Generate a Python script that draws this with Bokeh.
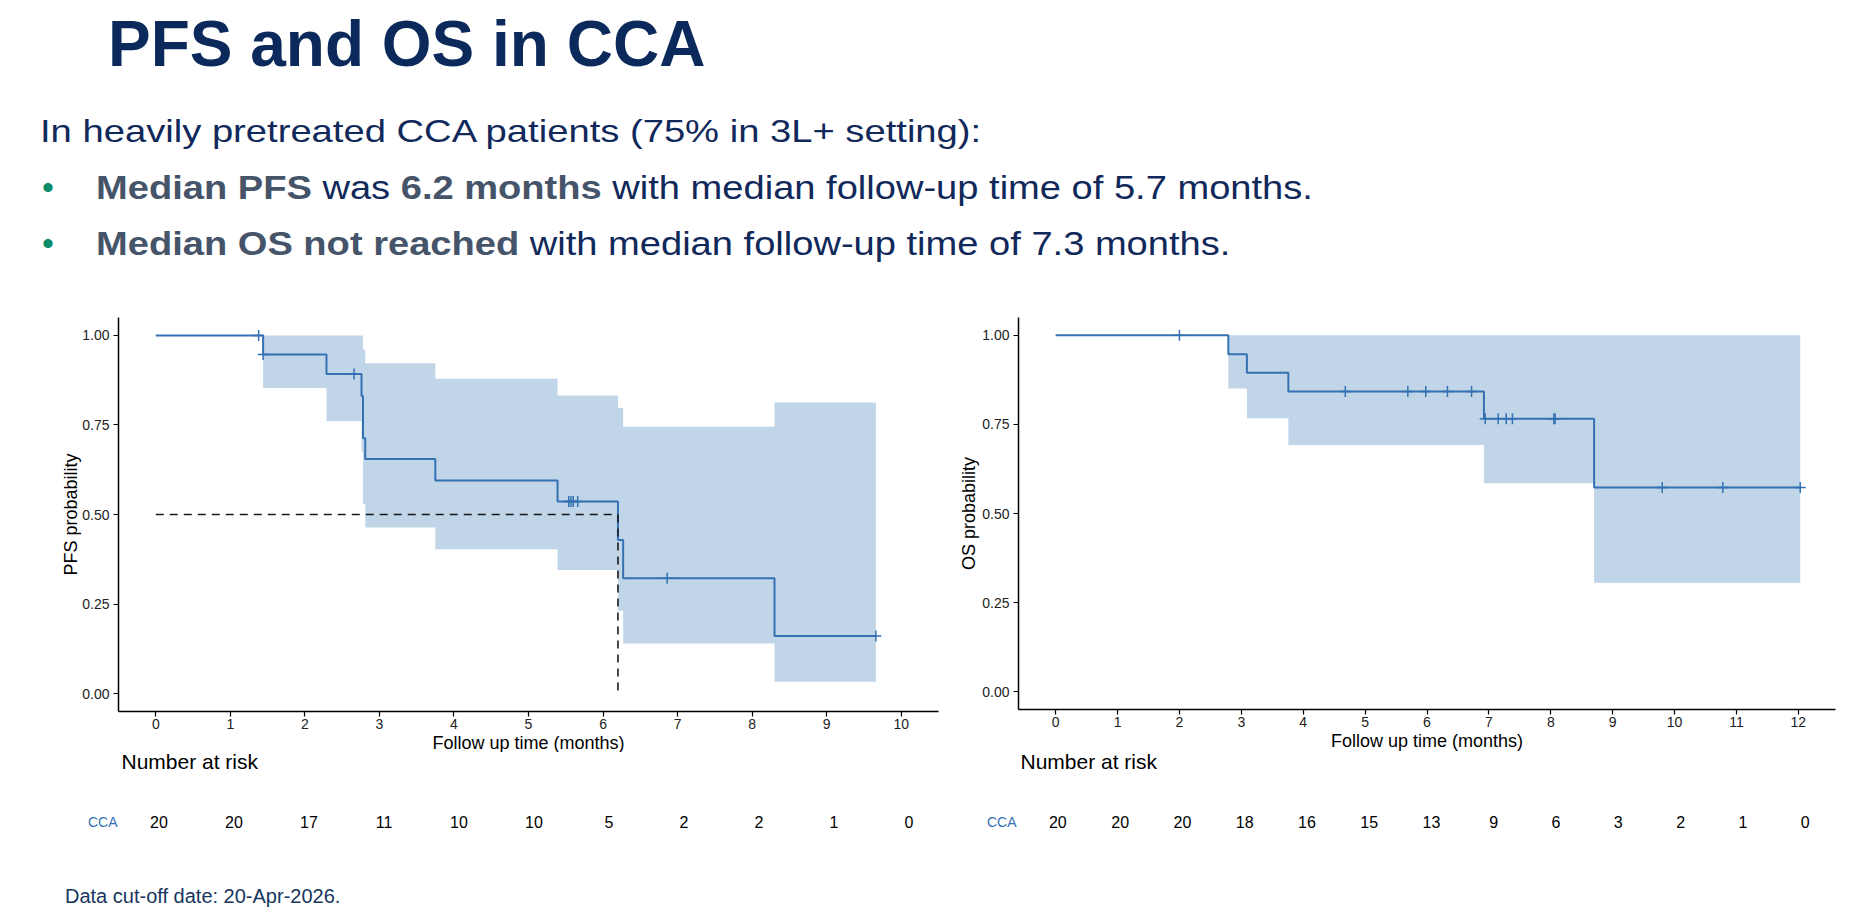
from bokeh.plotting import figure
from bokeh.layouts import column, row
from bokeh.models import Range1d, FixedTicker, Div, NumeralTickFormatter
from bokeh.core.properties import value
from bokeh.embed import file_html
from bokeh.resources import INLINE

FONT = "Liberation Sans"
CURVE = "#3471b3"
BAND = "#c1d5e8"
NAVY = "#0b2a5b"
TEXT_NAVY = "#11295a"
SLATE = "#46546a"
GREEN = "#0d8b69"

# ---- Progression-free survival (Kaplan-Meier step values) ----
pfs_step_time = [0, 1.44, 2.29, 2.76, 2.78, 2.81, 3.75, 5.39, 6.20, 6.27, 8.30, 9.66]
pfs_step_surv = [1.0, 0.947, 0.892, 0.831, 0.713, 0.655, 0.595, 0.536, 0.429, 0.322, 0.161, 0.161]
pfs_ci_time = [1.44, 2.29, 2.76, 2.78, 2.81, 3.75, 5.39, 6.20, 6.27, 8.30, 9.66]
pfs_ci_upper = [1.0, 1.0, 1.0, 0.960, 0.922, 0.879, 0.832, 0.797, 0.745, 0.813, 0.813]
pfs_ci_lower = [0.853, 0.761, 0.676, 0.529, 0.464, 0.403, 0.345, 0.231, 0.140, 0.033, 0.033]
pfs_cens_time = [1.38, 1.44, 2.66, 5.54, 5.57, 5.60, 5.66, 6.86, 9.66]
pfs_cens_surv = [1.0, 0.947, 0.892, 0.536, 0.536, 0.536, 0.536, 0.322, 0.161]
pfs_median = 6.2
pfs_risk_time = [0, 1, 2, 3, 4, 5, 6, 7, 8, 9, 10]
pfs_risk_n = [20, 20, 17, 11, 10, 10, 5, 2, 2, 1, 0]

# ---- Overall survival ----
os_step_time = [0, 2.79, 3.09, 3.76, 6.92, 8.70, 12.03]
os_step_surv = [1.0, 0.947, 0.895, 0.842, 0.766, 0.573, 0.573]
os_ci_time = [2.79, 3.09, 3.76, 6.92, 8.70, 12.03]
os_ci_upper = [1.0, 1.0, 1.0, 1.0, 1.0, 1.0]
os_ci_lower = [0.851, 0.767, 0.692, 0.585, 0.306, 0.306]
os_cens_time = [2.0, 4.68, 5.69, 5.98, 6.33, 6.72, 6.94, 7.15, 7.28, 7.38, 8.05, 8.07, 9.80, 10.78, 12.03]
os_cens_surv = [1.0, 0.842, 0.842, 0.842, 0.842, 0.842,
                0.766, 0.766, 0.766, 0.766, 0.766, 0.766,
                0.573, 0.573, 0.573]
os_risk_time = [0, 1, 2, 3, 4, 5, 6, 7, 8, 9, 10, 11, 12]
os_risk_n = [20, 20, 20, 18, 16, 15, 13, 9, 6, 3, 2, 1, 0]

y_ticks = [0.0, 0.25, 0.5, 0.75, 1.0]
strata_label = "CCA"
RISK_ROW = 0.4016
RISK_TITLE_Y = 0.873
RISK_OVERLAP = 8  # risk table canvas slides up under the axis-title area


def km_figure(x_lo, x_hi, ticks, ylabel, frame_w, frame_h, b_left, b_right, b_top, b_bottom):
    p = figure(frame_width=frame_w, frame_height=frame_h,
               x_range=Range1d(x_lo, x_hi), y_range=Range1d(-0.05, 1.05),
               min_border_left=b_left, min_border_right=b_right,
               min_border_top=b_top, min_border_bottom=b_bottom,
               toolbar_location=None, output_backend="svg", margin=0)
    p.xgrid.visible = False
    p.ygrid.visible = False
    p.outline_line_color = None
    p.background_fill_color = "white"
    p.border_fill_color = "white"
    p.xaxis.ticker = FixedTicker(ticks=ticks)
    p.yaxis.ticker = FixedTicker(ticks=y_ticks)
    p.yaxis.formatter = NumeralTickFormatter(format="0.00")
    p.xaxis.axis_label = "Follow up time (months)"
    p.yaxis.axis_label = ylabel
    for ax in (p.xaxis[0], p.yaxis[0]):
        ax.axis_line_color = "black"
        ax.axis_line_width = 1.5
        ax.major_tick_line_color = "black"
        ax.major_tick_line_width = 1.2
        ax.major_tick_in = 0
        ax.major_tick_out = 5
        ax.minor_tick_line_color = None
        ax.major_label_text_font = FONT
        ax.major_label_text_font_size = "14px"
        ax.major_label_text_color = "#222222"
        ax.axis_label_text_font = FONT
        ax.axis_label_text_font_size = "18px"
        ax.axis_label_text_font_style = "normal"
        ax.axis_label_text_color = "black"
    p.xaxis.major_label_standoff = 2
    p.xaxis.axis_label_standoff = 1
    p.yaxis.major_label_standoff = 4
    p.yaxis.axis_label_standoff = 0
    return p


def draw_curve(p, st, ss, ct, cu, cl, xt, xs):
    p.varea_step(x=ct, y1=cl, y2=cu, step_mode="after", fill_color=BAND, fill_alpha=1.0)
    p.step(x=st, y=ss, mode="after", line_color=CURVE, line_width=2)
    p.scatter(x=xt, y=xs, marker="cross", size=11, line_color=CURVE, line_width=1.5)


def risk_figure(times, counts, x_lo, x_hi, frame_w, b_left, b_right):
    p = figure(frame_width=frame_w, frame_height=120 + RISK_OVERLAP,
               x_range=Range1d(x_lo, x_hi), y_range=Range1d(0, 1),
               min_border_left=b_left, min_border_right=b_right,
               min_border_top=0, min_border_bottom=0,
               toolbar_location=None, output_backend="svg", margin=0)
    p.background_fill_color = None
    p.border_fill_color = None
    p.xaxis.visible = False
    p.xgrid.visible = False
    p.ygrid.visible = False
    p.outline_line_color = None
    ax = p.yaxis[0]
    ax.ticker = FixedTicker(ticks=[RISK_ROW])
    ax.major_label_overrides = {RISK_ROW: strata_label}
    ax.axis_line_color = None
    ax.major_tick_line_color = None
    ax.minor_tick_line_color = None
    ax.major_tick_out = 0
    ax.major_tick_in = 0
    ax.major_label_standoff = 4
    ax.major_label_text_font = FONT
    ax.major_label_text_font_size = "14px"
    ax.major_label_text_color = CURVE
    p.text(x=times, y=[RISK_ROW] * len(times), text=[str(n) for n in counts],
           text_align="center", text_baseline="middle",
           text_font=value(FONT), text_font_size="16px", text_color="black")
    p.text(x=[x_lo], y=[RISK_TITLE_Y], text=["Number at risk"],
           text_align="left", text_baseline="middle",
           text_font=value(FONT), text_font_size="21px", text_color="black")
    return p


# PFS panel
p_pfs = km_figure(-0.5, 10.5, pfs_risk_time, "PFS probability", 820, 394, 118, 2, 28, 45)
p_pfs.yaxis.axis_label_standoff = -2
draw_curve(p_pfs, pfs_step_time, pfs_step_surv, pfs_ci_time, pfs_ci_upper, pfs_ci_lower,
           pfs_cens_time, pfs_cens_surv)
p_pfs.line(x=[0, pfs_median], y=[0.5, 0.5], line_color="#1a1a1a", line_width=1.6, line_dash="8 6")
p_pfs.line(x=[pfs_median, pfs_median], y=[0.5, 0.0], line_color="#1a1a1a", line_width=1.6, line_dash="8 6")

# OS panel
p_os = km_figure(-0.6, 12.6, os_risk_time, "OS probability", 817, 392, 78, 14, 32, 43)
draw_curve(p_os, os_step_time, os_step_surv, os_ci_time, os_ci_upper, os_ci_lower,
           os_cens_time, os_cens_surv)

r_pfs = risk_figure(pfs_risk_time, pfs_risk_n, -0.5, 10.5, 825, 121, 0)
r_os = risk_figure(os_risk_time, os_risk_n, -0.6, 12.6, 822, 74, 7)

header_html = f"""
<div style="position:relative;width:1849px;height:285px;font-family:'{FONT}',Arial,sans-serif;">
  <div style="position:absolute;left:108px;top:12px;font-size:64px;line-height:64px;font-weight:bold;color:{NAVY};white-space:nowrap;">PFS and OS in CCA</div>
  <div style="position:absolute;left:40px;top:115px;font-size:32px;line-height:32px;color:{TEXT_NAVY};white-space:nowrap;transform:scaleX(1.193);transform-origin:0 0;">In heavily pretreated CCA patients (75% in 3L+ setting):</div>
  <div style="position:absolute;left:42px;top:169.5px;font-size:34px;line-height:34px;color:{GREEN};">&#8226;</div>
  <div style="position:absolute;left:96px;top:169.5px;font-size:34px;line-height:34px;color:{TEXT_NAVY};white-space:nowrap;transform:scaleX(1.12);transform-origin:0 0;"><b style="color:{SLATE};">Median PFS</b> was <b style="color:{SLATE};">6.2 months</b> with median follow-up time of 5.7 months.</div>
  <div style="position:absolute;left:42px;top:226.2px;font-size:34px;line-height:34px;color:{GREEN};">&#8226;</div>
  <div style="position:absolute;left:96px;top:226.2px;font-size:34px;line-height:34px;color:{TEXT_NAVY};white-space:nowrap;transform:scaleX(1.12);transform-origin:0 0;"><b style="color:{SLATE};">Median OS not reached</b> with median follow-up time of 7.3 months.</div>
</div>
"""
header = Div(text=header_html, width=1849, height=285, margin=0)

footer_html = f"""
<div style="position:relative;width:1849px;height:43px;font-family:'{FONT}',Arial,sans-serif;">
  <div style="position:absolute;left:65px;top:12.8px;font-size:20px;line-height:20px;color:#17375e;white-space:nowrap;">Data cut-off date: 20-Apr-2026.</div>
</div>
"""
footer = Div(text=footer_html, width=1849, height=43, margin=0)

layout = column(header,
                row(p_pfs, p_os, margin=0),
                row(r_pfs, r_os, margin=(-RISK_OVERLAP, 0, 0, 0)),
                footer, margin=0)

open("out.html", "w").write(file_html(layout, INLINE))
